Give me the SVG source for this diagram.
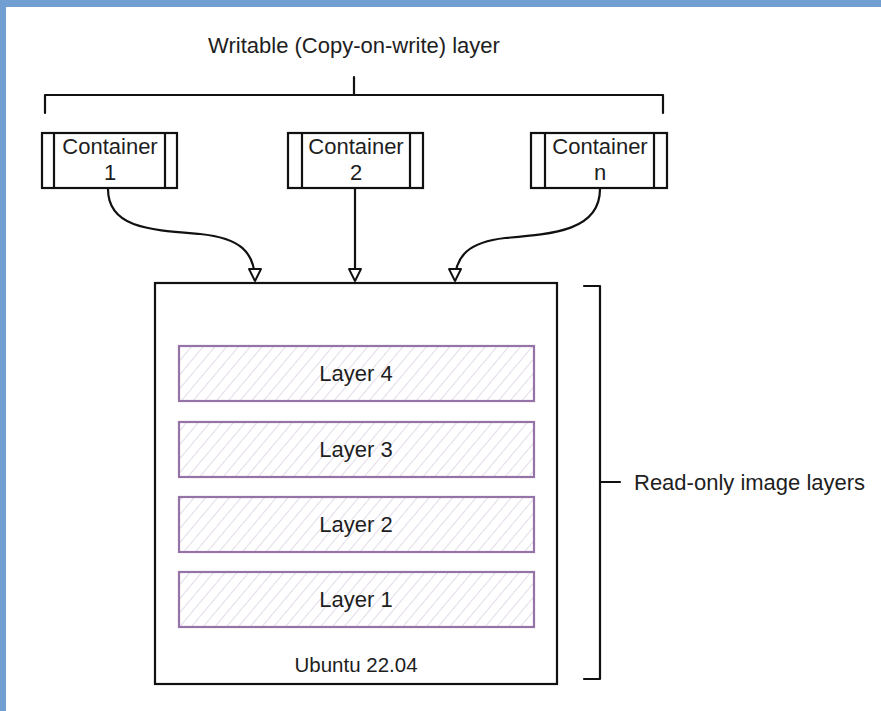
<svg xmlns="http://www.w3.org/2000/svg" width="881" height="711" viewBox="0 0 881 711">
  <style>
    .txt { font-family: "Liberation Sans", Arial, sans-serif; font-size: 22px; fill: #1e1e1e; }
    .ln { fill: none; stroke: #111; stroke-width: 2.2; stroke-linecap: round; stroke-linejoin: round; }
    .box { fill: #fff; stroke: #111; stroke-width: 2.2; }
    .layer { fill: url(#hatch); stroke: #9673a6; stroke-width: 2.2; }
    .conn { fill: none; stroke: #111; stroke-width: 2.2; marker-end: url(#open-arrow); }
  </style>
  <defs>
    <pattern id="hatch" width="9" height="9" patternUnits="userSpaceOnUse" patternTransform="rotate(40)">
      <rect width="9" height="9" fill="#fff"/>
      <line x1="0" y1="0" x2="0" y2="9" stroke="#d4c8de" stroke-width="1.3"/>
    </pattern>
    <marker id="open-arrow" markerWidth="16" markerHeight="16" refX="13" refY="7" orient="auto" markerUnits="userSpaceOnUse">
      <path d="M1,1 L13,7 L1,13 Z" fill="#fff" stroke="#111" stroke-width="1.9" stroke-linejoin="round"/>
    </marker>
  </defs>

  <!-- frame -->
  <rect x="0" y="0" width="881" height="711" fill="#fff"/>
  <rect x="0" y="0" width="881" height="7" fill="#729fd1"/>
  <rect x="0" y="0" width="6" height="711" fill="#729fd1"/>

  <!-- writable layer bracket -->
  <g id="writable-label">
    <text class="txt" x="354" y="53" text-anchor="middle">Writable (Copy-on-write) layer</text>
    <path class="ln" d="M45,113 L45,95 L663,95 L663,113 M354,95 L354,77"/>
  </g>

  <!-- containers -->
  <g id="container-1">
    <rect class="box" x="42" y="133" width="135" height="55"/>
    <path class="ln" d="M54,133 L54,188 M165,133 L165,188"/>
    <text class="txt" x="110" y="154" text-anchor="middle">Container</text>
    <text class="txt" x="110" y="180" text-anchor="middle">1</text>
  </g>
  <g id="container-2">
    <rect class="box" x="288" y="133" width="135" height="55"/>
    <path class="ln" d="M302,133 L302,188 M410,133 L410,188"/>
    <text class="txt" x="356" y="154" text-anchor="middle">Container</text>
    <text class="txt" x="356" y="180" text-anchor="middle">2</text>
  </g>
  <g id="container-n">
    <rect class="box" x="531" y="133" width="136" height="55"/>
    <path class="ln" d="M545,133 L545,188 M654,133 L654,188"/>
    <text class="txt" x="600" y="154" text-anchor="middle">Container</text>
    <text class="txt" x="600" y="180" text-anchor="middle">n</text>
  </g>

  <!-- connectors -->
  <g id="connectors">
    <path class="conn" d="M108,189 C108,228 150,230 200,234 C240,238 255,252 255,281"/>
    <path class="conn" d="M355,189 L355,281"/>
    <path class="conn" d="M600,189 C600,230 555,234 505,238 C470,242 455,255 455,281"/>
  </g>

  <!-- base image -->
  <g id="image">
    <rect class="box" x="155" y="283" width="402" height="401"/>
    <text class="txt" x="356" y="672" text-anchor="middle" style="font-size:20.5px">Ubuntu 22.04</text>
  </g>

  <g id="layer-4">
    <rect class="layer" x="179" y="346" width="355" height="55"/>
    <text class="txt" x="356" y="381" text-anchor="middle">Layer 4</text>
  </g>
  <g id="layer-3">
    <rect class="layer" x="179" y="422" width="355" height="55"/>
    <text class="txt" x="356" y="457" text-anchor="middle">Layer 3</text>
  </g>
  <g id="layer-2">
    <rect class="layer" x="179" y="497" width="355" height="55"/>
    <text class="txt" x="356" y="532" text-anchor="middle">Layer 2</text>
  </g>
  <g id="layer-1">
    <rect class="layer" x="179" y="572" width="355" height="55"/>
    <text class="txt" x="356" y="607" text-anchor="middle">Layer 1</text>
  </g>

  <!-- read-only bracket -->
  <g id="readonly-label">
    <path class="ln" d="M584,286 L600,286 L600,679 L584,679 M600,482 L620,482"/>
    <text class="txt" x="634" y="490">Read-only image layers</text>
  </g>
</svg>
